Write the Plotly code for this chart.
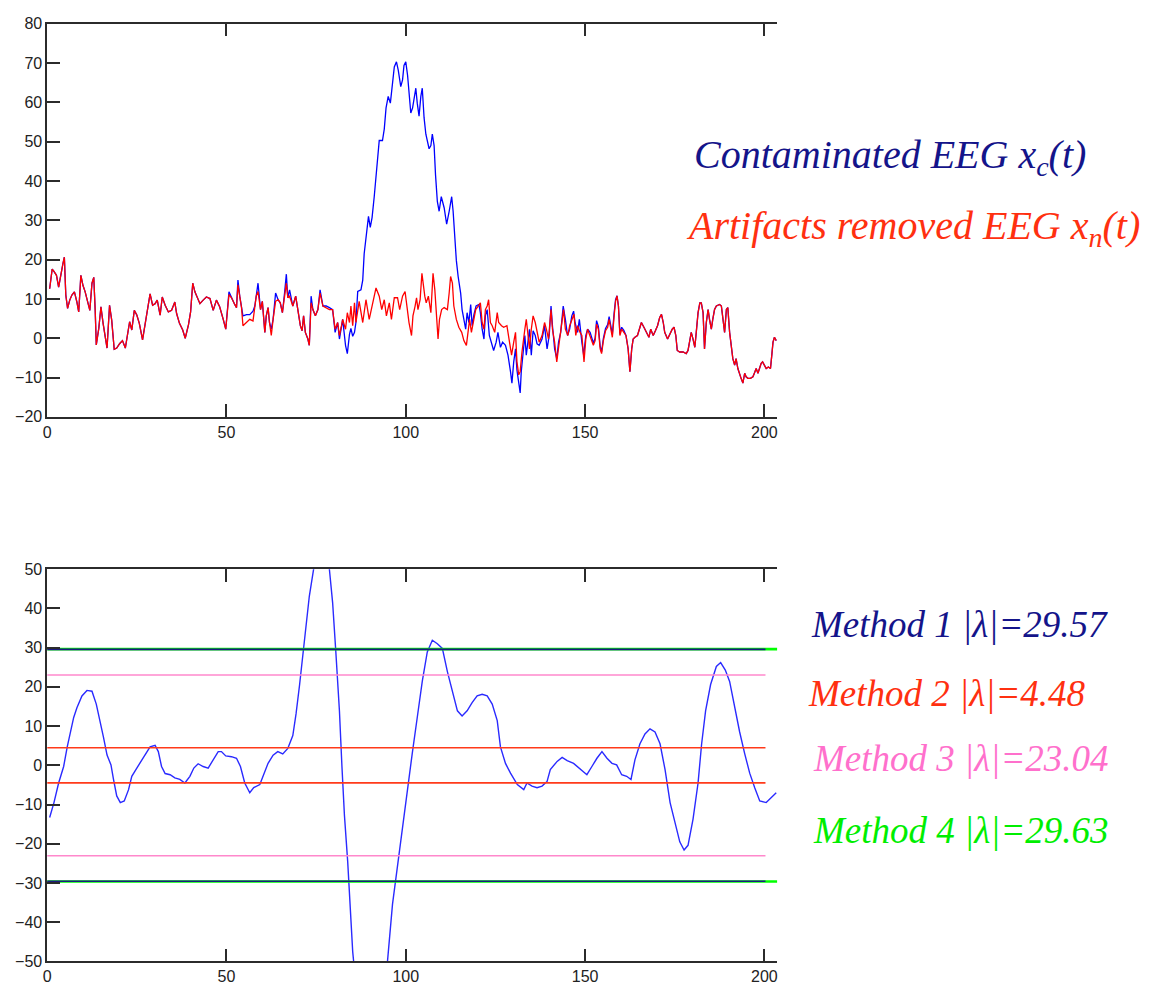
import plotly.graph_objects as go

# ---------------- top panel: EEG before / after artifact removal ----------------
# segment where both traces coincide (start of record)
head_t = [0.7, 1.4, 1.9, 2.6, 3.2, 3.7, 4.4, 4.8, 5.2, 5.7, 6.3, 6.9, 7.6, 8.3, 8.8, 9.4, 10, 10.6, 11.3, 11.9,
          12.5, 13, 13.4, 13.7, 14.4, 15, 15.6, 16.2, 16.7, 17.4, 18, 18.7, 19.4, 20.2, 21, 21.8, 22.4, 23, 23.6,
          24.3, 25, 25.7, 26.6, 27.3, 28, 28.7, 29.4, 30.1, 30.7, 31.5, 32.1, 32.9, 33.8, 34.7, 35.6, 36.1, 36.9,
          37.8, 38.5, 39.4, 40, 40.6, 41.2, 41.9, 42.6, 43.5, 44.4, 45.4, 46.3, 47.2, 48.1]
head_v = [12.6, 17.6, 17, 16, 13, 16, 19, 20.6, 11, 7.6, 9.7, 11, 11.8, 9.2, 6.7, 16, 13.4, 11.8, 8.8, 7.1,
          14, 15.5, 7, -1.7, 2.5, 8, 3.8, -0.4, -2.5, 8.4, 4.6, -2.8, -2.5, -1.4, -0.6, -2.5, 1.3, 4.2, 2.1,
          7.1, 5.9, 3.8, -0.4, 3.8, 7.6, 11.3, 8.4, 8.8, 9.7, 5.9, 10.5, 8.4, 6.7, 7.1, 9.2, 6.3, 3.8,
          2.1, 0, 3.4, 6.7, 14, 11.8, 10.5, 8.8, 9.7, 10.5, 10.1, 7.1, 9.7, 8]

# artifacts removed EEG, middle part
clean_mid_a_t = [49.1, 49.8, 50.7, 51.4, 52.3, 52.8, 53.2, 53.7, 54.2, 54.6, 55.6, 56.5, 57.4, 57.9, 58.3, 58.8,
                 59.5, 60, 60.7, 61.1, 61.6, 62, 62.5, 63, 63.7, 64.4, 65, 65.6, 66.2, 66.7, 67.1, 67.6, 68.5,
                 69.3, 69.9, 70.6, 71.1, 71.5, 72, 72.7, 73.1, 73.6, 74.1, 74.8, 75.5, 76.1, 76.9, 77.8, 78.7,
                 79.6, 80.3, 81, 81.5, 82, 82.4, 83.2, 83.7, 84.3, 84.7, 85.2, 85.7, 86.1, 87, 88, 88.9, 89.8,
                 90.7, 91.7, 92.6, 93.3, 94, 94.6, 95.4, 96, 96.8, 97.7, 98.3, 99.1, 99.8]
clean_mid_a_v = [4.8, 2.3, 11.1, 10.3, 8.6, 7.8, 13.6, 10.7, 7.8, 3.2, 4, 4.8, 4.4, 8.2, 10.7, 11.9,
                 7.3, 9.4, 1.5, 5.7, 7.8, 4, 0.7, 4.8, 9.4, 9.8, 9, 6.5, 11.5, 14, 10.3, 10.7, 8.2,
                 10.7, 7.3, 3.2, 1.9, 5.7, 1.5, -0.2, -1.8, 9, 7.3, 5.7, 7.3, 11.5, 8.2, 7.8, 7.3,
                 7.3, 2.3, 4, 0.7, 2.8, 4.8, 2.3, 6.5, 4, 8.2, 3.2, 9, 4, 9.4, 4, 9.8, 4.8,
                 8.2, 12.8, 10.7, 7.3, 9.8, 5.7, 9, 4.8, 10.3, 10.3, 7.3, 10.7, 11.9]
clean_mid_b_t = [100.5, 100.9, 101.6, 102, 102.6, 103, 103.4, 104, 104.5, 104.8, 105.3, 105.7, 106.3, 107, 107.2,
                 107.6, 108.1, 108.5, 109, 109.4, 110, 110.7, 111.6, 112.1, 112.5, 113, 113.4, 114.1, 114.8,
                 115.6, 116.2, 116.9, 117.3, 117.8, 118.3, 118.8, 119.5, 120.2, 120.8, 121.3, 121.8, 122.2,
                 122.7, 123.1, 123.6, 124.1, 124.8, 125.5, 125.9, 126.7, 127.3, 128.2, 128.9, 129.5, 130.1,
                 130.6, 131, 131.5, 131.9, 132.4, 133.2, 133.6, 134.1, 134.5, 135, 135.5, 136.1, 136.6, 137.2,
                 138, 138.7, 139.2, 139.8, 140.5, 140.9, 141.5, 142.1, 142.8, 143.3, 144, 144.5, 145.2, 145.7,
                 146.3, 146.9, 147.4, 147.9, 148.6, 149.1, 149.7, 150.2, 150.7, 151.4]
clean_mid_b_v = [6.5, 4, 0.7, 5.7, 8.2, 10.3, 7.3, 9.8, 16.5, 14, 10.7, 9, 10.7, 6.5, 11.5,
                 16.5, 12.3, 5.7, -0.2, 4.8, 7.3, 7.8, 7.3, 11.5, 15.7, 14, 8.2, 4.8, 2.8,
                 1.5, -0.6, -1.8, 1.5, 4.8, 1.5, 4, 7.3, 8.2, 9, 4, 2.3, 7.3,
                 8.2, 9.8, 4, 3.2, 1.5, 6.5, 4, 3.2, 2.8, 3.2, -1, -4.3, -1,
                 1.5, -6, -9.3, -8.5, -3.5, 2.3, 4.8, 0.7, -2.7, 2.3, 5.7, 4, 1.5, -1,
                 0.7, 4, 2.3, -0.2, 7.3, 2.3, -1, -6, -1, 2.3, 7.3, 2.3, 0.7, 3.2,
                 4.8, 6.1, 0.7, 3.2, 1.5, 0.7, -6, -0.2, 2.3, 0.7]
clean_mid_c_t = [152.3, 152.8, 153.2, 153.7, 154.2, 154.6, 155.1, 155.7, 156.3, 156.7, 157.2, 157.6, 158.1,
                 158.5, 158.9, 159.3, 159.7, 160.2, 160.8, 161.4, 162, 162.5]
clean_mid_c_v = [-1.8, -0.6, 3.6, 2.3, -2.7, -3.9, -0.6, 1.9, 2.8, 4.8, 1.9, 0.25, 5.7,
                 9.4, 10.8, 8.2, 0.7, 2.3, 1.5, 0.7, -2.7, -8.5]

# contaminated EEG, middle part (ocular artifact around t = 85..118)
cont_mid_a_t = clean_mid_a_t[:62]
cont_mid_a_v = [4.8, 2.3, 11.8, 10.3, 8.6, 7.8, 14.8, 10.7, 7.8, 5.7, 6, 6, 6.9, 8.2, 10.7, 14,
                7.3, 9.4, 1.5, 5.7, 7.8, 4, 2.3, 4.8, 11.5, 9.8, 9, 6.5, 11.5, 16.3, 10.3, 12.3, 8.2,
                10.7, 7.3, 3.2, 1.9, 5.7, 1.5, -0.2, -1.8, 10.7, 7.3, 5.7, 7.3, 12.3, 8.2, 8.2, 7.8,
                7.3, 1.5, 4, -0.2, 2.8, 4.8, -1.8, -3.9, 1, 2.5, 0.5, 1.5, 4]
cont_mid_b_t = [86.6, 87.5, 88, 88.4, 89.1, 89.6, 90.1, 90.6, 91.2, 91.7, 92.1, 92.6, 93.5, 94, 94.5, 95.1,
                95.7, 96.3, 96.8, 97.4, 97.9, 98.6]
cont_mid_b_v = [11.9, 12.3, 14.8, 21.5, 26.5, 31, 28.2, 30.7, 36, 41.5, 46.5, 50.3, 50.3, 53.2, 58.6, 61.5,
                59.8, 65.7, 69, 70.3, 68.2, 64]
cont_mid_c_t = [99.1, 99.5, 100, 100.5, 100.9, 101.4, 101.9, 102.3, 102.8, 103.2, 103.7, 104.2, 104.6, 105.1,
                105.6, 106.5, 107, 107.4, 107.9, 108.3, 108.8, 109.3, 109.9, 110.7, 111.4, 112.1, 112.8, 113.2,
                113.7, 114.1, 114.6, 115.3, 115.7, 116.2, 116.7, 117.1, 117.6, 118.1, 118.5, 119, 119.6, 120.4,
                120.8, 121.3, 121.8, 122.2, 122.7, 123.3, 123.9, 124.5, 125.2, 125.7, 126.4, 127, 127.8, 128.5,
                129.2, 129.6, 130.1, 130.6, 131, 131.5, 131.9, 132.2, 132.7, 133.2, 133.6, 134.1, 134.5, 135,
                135.5, 136.1, 136.6, 137.2, 138, 138.7, 139.4, 140, 140.5, 140.9, 141.5, 142.1, 142.6, 143.2,
                143.9, 144.5, 145.1, 145.7, 146.3, 146.8, 147.2, 147.9, 148.4, 149.1, 149.6, 150.2, 150.7, 151.4]
cont_mid_c_v = [65.7, 69.4, 70.3, 66.9, 61.5, 57.3, 58.6, 61.5, 63.6, 59.8, 56.5, 61.5, 63.6, 56.1,
                51.9, 48.2, 49, 51.9, 49, 41.5, 34.8, 32.3, 36, 33.2, 29, 32.3, 36, 32.3,
                24.8, 19.8, 15.7, 11.5, 7.3, 4.4, 2.3, 6.5, 4, 8.6, 3.2, 6, 8.2, 8.6,
                6.5, 2.3, -0.2, 5.7, 7.3, 0.7, -1.4, -3.1, -1, 1.5, -2.3, -1, -1.8, -4.3,
                -8.5, -11.4, -6, -2.7, -8.1, -11.8, -13.9, -8.5, -3.5, 0.7, -4.3, -0.2, 2.3, -4.3,
                1.9, 0.7, -1.4, -1.8, -0.2, 3.2, -2.7, 0.7, 8.2, 3.2, -2.7, -5.2, -1, 1.5,
                8.2, 4.8, 0.7, 2.3, 5.7, 6.9, 4, 1.5, 4.8, -1, -4.3, 0.7, 2.3, 1.5]
cont_mid_d_t = clean_mid_c_t
cont_mid_d_v = [-1.2, 0, 4.5, 3, -2, -3.5, 0, 2.5, 3.5, 5.5, 2.5, 1, 6.5,
                9.8, 10.8, 8.2, 1.2, 2.8, 2, 0.7, -2.7, -8.5]

# segment where both traces coincide (end of record)
tail_t = [163, 163.4, 163.9, 164.6, 165.3, 165.7, 166.4, 167.1, 167.8, 168.3, 169, 169.6, 170.2, 170.8, 171.3,
          171.8, 172.2, 173, 173.6, 174.3, 174.8, 175.3, 175.7, 176.4, 177.3, 178.2, 178.7, 179.2, 179.6, 180.1,
          180.6, 181, 181.5, 182, 182.4, 182.9, 183.3, 183.8, 184.3, 184.7, 185.2, 185.6, 186.1, 186.6, 187,
          187.5, 188, 188.4, 188.9, 189.4, 189.8, 190.3, 190.7, 191.2, 191.7, 192.1, 192.6, 193.1, 193.5, 194,
          194.5, 194.9, 195.4, 196.1, 196.8, 197.2, 197.7, 198.2, 198.6, 199.1, 199.5, 200, 200.5, 201.1,
          201.7, 202.1, 202.4, 202.8, 203.3]
tail_v = [-2.7, -0.2, 0.25, 0.7, 2.8, 4, 2.8, 1.5, 0.25, 2.3, 0.7, 1.9, 3.2, 5.3, 6.1,
          4, 1.5, -0.2, 1.1, 2.3, 2.8, 0.7, -3.1, -3.5, -3.5, -3.9, -3.1, -0.6, 1.5, -0.2,
          -2.3, 1.5, 6.5, 9, 9, 6.5, -2.7, 4, 7.3, 4.8, 2.3, 4.8, 7.3, 8.2, 8.3,
          8.6, 8.2, 4.8, 1.5, 7.3, 7.8, 1.5, -2.3, -5.2, -6.8, -5.2, -7.7, -9.3, -10.2, -11.4,
          -8.9, -9.8, -10.2, -10.2, -9.8, -8.9, -7.7, -8.9, -7.7, -6.4, -6, -6.8, -7.7, -7.3,
          -7.7, -3.9, -1, 0.25, -0.6]

clean_t = head_t + clean_mid_a_t + clean_mid_b_t + clean_mid_c_t + tail_t
clean_v = head_v + clean_mid_a_v + clean_mid_b_v + clean_mid_c_v + tail_v
cont_t = head_t + cont_mid_a_t + cont_mid_b_t + cont_mid_c_t + cont_mid_d_t + tail_t
cont_v = head_v + cont_mid_a_v + cont_mid_b_v + cont_mid_c_v + cont_mid_d_v + tail_v
assert len(clean_t) == len(clean_v) and len(cont_t) == len(cont_v)

# ---------------- bottom panel: filtered signal and thresholds ----------------
filt_t = [0.7, 1.9, 3.2, 4.6, 5.6, 6.5, 7.4, 8.3, 9.7, 11.1, 12.5, 13.7, 14.8, 15.7, 16.7, 17.8, 18.5, 19.4,
          20.4, 21.5, 22.7, 23.6, 25, 26.4, 27.8, 28.7, 30.1, 31, 31.9, 32.9, 34.3, 35.6, 37, 38.4, 39.8, 40.9,
          42.1, 43.5, 44.9, 46.3, 47.7, 48.6, 49.8, 51.4, 52.8, 53.9, 55.1, 56.5, 57.6, 59.3, 60.6, 61.6, 63,
          64.3, 65.7, 67.1, 68.5, 69.4, 70.4, 71.3, 72.2, 73.1, 74.3, 75.3, 76.4, 77.6, 78.7, 79.6, 80.5, 81.5,
          82.2, 82.9, 83.8, 84.4, 85.2, 86.5, 88.3, 90.2, 92.2, 93.7, 94.9, 96.3, 97.7, 99.1, 100.5, 101.8,
          103.2, 104.6, 106, 107.4, 108.8, 110.2, 111.6, 113, 114.4, 115.7, 117.1, 118.5, 119.9, 121.3, 122.7,
          124.1, 125.5, 126.4, 127.8, 129.2, 130.3, 131.1, 132.9, 133.8, 135.2, 136.6, 138, 139.4, 140.3, 142.2,
          143.6, 145, 146.8, 148.7, 150.5, 151.9, 153.3, 154.7, 156.1, 157.5, 158.8, 160.2, 161.6, 162.8,
          163.9, 165.3, 166.7, 168.1, 169.5, 170.9, 172.3, 173.7, 175.1, 176.4, 177.6, 178.7, 180.1, 181.5,
          182.5, 183.6, 185, 186.6, 187.8, 189.1, 190.3, 191.7, 193.1, 194.5, 195.9, 197.3, 198.7, 200.5,
          201.9, 203.3]
filt_v = [-13.3, -9.5, -4.5, -0.3, 4.7, 8.5, 12.2, 14.7, 17.7, 19.1, 18.9, 15.6, 11.4, 7.2, 2.6, 0.1, -3.6, -7.8,
          -9.5, -9.1, -6.2, -2.8, -0.7, 1.4, 3.5, 4.7, 5.1, 3.5, -0.3, -2.1, -2.4, -3.2, -3.6, -4.5, -2.8, -0.7,
          0.4, -0.3, -0.7, 1.4, 3.5, 3.5, 2.4, 2.2, 1.8, -0.3, -4.5, -7, -5.7, -4.9, -2, 0.5, 2.6,
          3.5, 2.9, 4.3, 7.6, 13.1, 20.6, 28.1, 35.6, 43.1, 50, 55, 58, 56, 50, 41.5, 28.9, 13.9,
          -0.3, -12.8, -24.5, -34.6, -47.5, -60, -68, -69, -65, -58, -50, -35.4, -25.4, -16.2, -6.2, 3,
          12.2, 21.4, 28.9, 31.9, 31, 29.8, 23.9, 18.9, 13.9, 12.6, 13.9, 16, 17.7, 18.1, 17.7,
          15.6, 11.4, 4.7, 0.5, -2, -3.5, -4.9, -6.2, -4.5, -5.3, -5.7, -5.3, -4.1, -1.1, 1,
          2, 1.2, 0.5, -1.1, -2.4, -0.3, 1.8, 3.5, 1.8, 0.5, 0.1, -2.4, -2.8, -3.6,
          1.4, 5.5, 8, 9.3, 8.5, 5.5, -1.1, -9.5, -14.5, -19.5, -21.6, -20.4, -13.7, -4.5,
          5.5, 13.9, 20.6, 25.2, 26.2, 24.3, 21.4, 14.7, 8.5, 3, -2, -5.7, -9.1, -9.5,
          -8.2, -7]
assert len(filt_t) == len(filt_v)

method_names = ["Method 1", "Method 2", "Method 3", "Method 4"]
lambdas = [29.57, 4.48, 23.04, 29.63]
method_colors = ["#14148a", "#ff3010", "#ff70cc", "#00ee00"]
line_colors = ["#1a1a80", "#ff3a1a", "#ff88cc", "#00ff00"]
line_end = [200.3, 200.3, 200.3, 203.6]
line_width = [1.6, 1.6, 1.6, 2.6]
draw_order = [3, 0, 2, 1]

W, H = 1156, 994


def fx(p):
    return p / W


def fy(p):
    return 1 - p / H


fig = go.Figure()

fig.add_trace(go.Scatter(x=cont_t, y=cont_v, mode="lines", line=dict(color="#0000ff", width=1.3),
                         xaxis="x", yaxis="y", hoverinfo="skip"))
fig.add_trace(go.Scatter(x=clean_t, y=clean_v, mode="lines", line=dict(color="#ff0000", width=1.3),
                         xaxis="x", yaxis="y", hoverinfo="skip"))

fig.add_trace(go.Scatter(x=filt_t, y=filt_v, mode="lines", line=dict(color="#2a2aff", width=1.4),
                         xaxis="x2", yaxis="y2", hoverinfo="skip"))
for i in draw_order:
    for sign in (1, -1):
        fig.add_trace(go.Scatter(x=[0, line_end[i]], y=[sign * lambdas[i]] * 2, mode="lines",
                                 line=dict(color=line_colors[i], width=line_width[i]),
                                 xaxis="x2", yaxis="y2", hoverinfo="skip"))

axis_common = dict(showgrid=False, zeroline=False, showline=True, linecolor="#2b2b2b", linewidth=1.5,
                   ticks="inside", ticklen=13, tickwidth=1.5, tickcolor="#2b2b2b",
                   tickfont=dict(family="Liberation Sans, Arial, sans-serif", size=16, color="#222222"))
x_dom = [fx(43.3), fx(776)]

fig.update_layout(
    width=W, height=H, margin=dict(l=0, r=0, t=0, b=0),
    paper_bgcolor="white", plot_bgcolor="white", showlegend=False,
    xaxis=dict(domain=x_dom, range=[0, 203.6], tickvals=[0, 50, 100, 150, 200], mirror="ticks",
               anchor="y", **axis_common),
    yaxis=dict(domain=[fy(416), fy(16)], range=[-20, 80], tickvals=list(range(-20, 81, 10)),
               anchor="x", **axis_common),
    xaxis2=dict(domain=x_dom, range=[0, 203.6], tickvals=[0, 50, 100, 150, 200], mirror="ticks",
                anchor="y2", **axis_common),
    yaxis2=dict(domain=[fy(970), fy(571)], range=[-50, 50], tickvals=list(range(-50, 51, 10)),
                anchor="x2", **axis_common),
)

serif = "Liberation Serif, Times New Roman, serif"
annotations = [
    dict(text="Contaminated EEG x<sub>c</sub>(t)", x=fx(690), y=fy(152), color="#14148a", size=40),
    dict(text="Artifacts removed EEG x<sub>n</sub>(t)", x=fx(682), y=fy(224), color="#ff3010", size=40),
]
method_y = [627, 697, 764, 837]
method_x = [808, 805, 810, 810]
for i in range(4):
    annotations.append(dict(text=f"{method_names[i]} |λ|={lambdas[i]:.2f}",
                            x=fx(method_x[i]), y=fy(method_y[i]), color=method_colors[i], size=37))

for a in annotations:
    fig.add_annotation(text=a["text"], x=a["x"], y=a["y"], xref="paper", yref="paper",
                       xanchor="left", yanchor="middle", showarrow=False,
                       font=dict(family=serif, size=a["size"], color=a["color"], style="italic"))

fig.write_html("out.html")
